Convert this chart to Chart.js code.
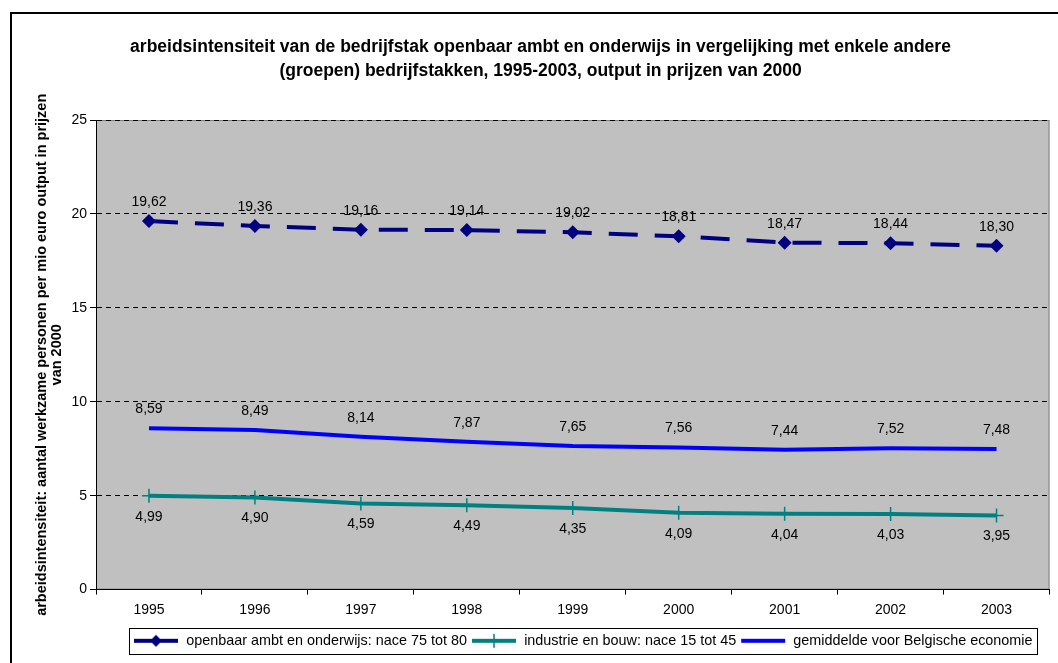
<!DOCTYPE html>
<html>
<head>
<meta charset="utf-8">
<script src="https://cdn.jsdelivr.net/npm/chart.js@4/dist/chart.umd.min.js"></script>
<style>
  html, body { margin: 0; padding: 0; background: #fff; }
  canvas { display: block; }
</style>
</head>
<body>
<canvas id="chart" width="1058" height="663"></canvas>
<script>
'use strict';

// ── Data ──────────────────────────────────────────────────────────────────────

const YEARS = ['1995', '1996', '1997', '1998', '1999', '2000', '2001', '2002', '2003'];
const OPENBAAR = [19.62, 19.36, 19.16, 19.14, 19.02, 18.81, 18.47, 18.44, 18.30];
const INDUSTRIE = [4.99, 4.90, 4.59, 4.49, 4.35, 4.09, 4.04, 4.03, 3.95];
const GEMIDDELDE = [8.59, 8.49, 8.14, 7.87, 7.65, 7.56, 7.44, 7.52, 7.48];
const Y_TICKS = [0, 5, 10, 15, 20, 25];

const TITLE = [
  'arbeidsintensiteit van de bedrijfstak openbaar ambt en onderwijs in vergelijking met enkele andere',
  '(groepen) bedrijfstakken, 1995-2003, output in prijzen van 2000',
];
const Y_TITLE = [
  'arbeidsintensiteit: aantal werkzame personen per mio euro output in prijzen',
  'van 2000',
];

const FONT = 'Arial, "Liberation Sans", sans-serif';
const NAVY = '#000080';
const TEAL = '#008080';
const BLUE = '#0000ff';

// ── Legend samples (line + marker) ────────────────────────────────────────────

function legendSample(color, marker) {
  const c = document.createElement('canvas');
  c.width = 46;
  c.height = 16;
  const ctx = c.getContext('2d');
  ctx.strokeStyle = color;
  ctx.lineWidth = 4;
  ctx.beginPath();
  ctx.moveTo(1, 8);
  ctx.lineTo(45, 8);
  ctx.stroke();
  ctx.fillStyle = color;
  if (marker === 'diamond') {
    ctx.beginPath();
    ctx.moveTo(23, 2); ctx.lineTo(29, 8); ctx.lineTo(23, 14); ctx.lineTo(17, 8);
    ctx.closePath();
    ctx.fill();
  } else if (marker === 'cross') {
    ctx.lineWidth = 1.5;
    ctx.beginPath();
    ctx.moveTo(23, 1); ctx.lineTo(23, 15);
    ctx.stroke();
  }
  return c;
}

const SAMPLES = [
  legendSample(NAVY, 'diamond'),
  legendSample(TEAL, 'cross'),
  legendSample(BLUE, null),
];

// ── Plugins ───────────────────────────────────────────────────────────────────

const frame = {
  id: 'frame',
  afterLayout(chart) {
    // legend box sits a bit right of the plot centre in the original
    chart.legend.left += 10;
    chart.legend.right += 10;
  },
  beforeDraw(chart) {
    const { ctx, chartArea: a } = chart;
    ctx.save();
    ctx.fillStyle = '#fff';
    ctx.fillRect(0, 0, chart.width, chart.height);
    ctx.strokeStyle = '#000';
    ctx.lineWidth = 2;
    ctx.strokeRect(11, 13, chart.width + 20, chart.height + 20);
    ctx.fillStyle = '#c0c0c0';
    ctx.fillRect(a.left, a.top, a.right - a.left, a.bottom - a.top);
    ctx.strokeStyle = '#808080';
    ctx.lineWidth = 1;
    ctx.strokeRect(a.left + 0.5, a.top + 0.5, a.right - a.left - 1, a.bottom - a.top - 1);
    ctx.restore();
  },
  afterDraw(chart) {
    const boxes = chart.legend.legendHitBoxes;
    if (!boxes || !boxes.length) return;
    const left = Math.min(...boxes.map(b => b.left)) - 4;
    const right = Math.max(...boxes.map(b => b.left + b.width)) + 4;
    const top = Math.min(...boxes.map(b => b.top)) - 6;
    const bottom = Math.max(...boxes.map(b => b.top + b.height)) + 6;
    const ctx = chart.ctx;
    ctx.save();
    ctx.strokeStyle = '#000';
    ctx.lineWidth = 1;
    ctx.strokeRect(Math.round(left) + 0.5, Math.round(top) + 0.5,
      Math.round(right - left), Math.round(bottom - top));
    ctx.restore();
  },
};

const valueLabels = {
  id: 'valueLabels',
  afterDatasetsDraw(chart) {
    const ctx = chart.ctx;
    ctx.save();
    ctx.font = '14px ' + FONT;
    ctx.fillStyle = '#000';
    ctx.textAlign = 'center';
    ctx.textBaseline = 'middle';
    chart.data.datasets.forEach((ds, i) => {
      const meta = chart.getDatasetMeta(i);
      meta.data.forEach((pt, j) => {
        const txt = ds.data[j].toFixed(2).replace('.', ',');
        ctx.fillText(txt, pt.x, pt.y + ds.labelOffset);
      });
    });
    ctx.restore();
  },
};

// ── Chart ─────────────────────────────────────────────────────────────────────

new Chart(document.getElementById('chart'), {
  type: 'line',
  data: {
    labels: YEARS,
    datasets: [
      {
        label: 'openbaar ambt en onderwijs: nace 75 tot 80',
        data: OPENBAAR,
        borderColor: NAVY,
        backgroundColor: NAVY,
        borderWidth: 4,
        borderDash: [29, 17],
        pointStyle: 'rectRot',
        pointRadius: 7,
        pointBorderWidth: 0,
        pointBackgroundColor: NAVY,
        labelOffset: -19,
      },
      {
        label: 'industrie en bouw: nace 15 tot 45',
        data: INDUSTRIE,
        borderColor: TEAL,
        backgroundColor: TEAL,
        borderWidth: 4,
        pointStyle: 'cross',
        pointRadius: 7,
        pointBorderWidth: 1.5,
        pointBorderColor: TEAL,
        labelOffset: 21,
      },
      {
        label: 'gemiddelde voor Belgische economie',
        data: GEMIDDELDE,
        borderColor: BLUE,
        backgroundColor: BLUE,
        borderWidth: 4,
        pointRadius: 0,
        labelOffset: -19,
      },
    ],
  },
  options: {
    responsive: false,
    animation: false,
    layout: { padding: { top: 35, left: 28, right: 5, bottom: 5 } },
    plugins: {
      tooltip: { enabled: false },
      title: {
        display: true,
        text: TITLE,
        color: '#000',
        font: { family: FONT, size: 17.5, weight: 'bold', lineHeight: '24px' },
        padding: { top: 0, bottom: 37 },
      },
      legend: {
        position: 'bottom',
        fullSize: false,
        align: 'center',
        labels: {
          color: '#000',
          font: { family: FONT, size: 14.4 },
          usePointStyle: true,
          pointStyleWidth: 46,
          padding: 4,
          generateLabels(chart) {
            return chart.data.datasets.map((ds, i) => ({
              text: ds.label,
              pointStyle: SAMPLES[i],
              fillStyle: ds.borderColor,
              strokeStyle: ds.borderColor,
              lineWidth: 0,
              datasetIndex: i,
              fontColor: '#000',
            }));
          },
        },
      },
    },
    scales: {
      x: {
        offset: true,
        ticks: { color: '#000', font: { family: FONT, size: 14 }, padding: 7 },
        grid: { offset: true, drawOnChartArea: false, tickLength: 5, color: '#000' },
        border: { color: '#000', width: 1 },
        afterFit(scale) { scale.height = 40; },
      },
      y: {
        min: 0,
        max: 25,
        afterBuildTicks(scale) { scale.ticks = Y_TICKS.map(v => ({ value: v })); },
        ticks: { color: '#000', font: { family: FONT, size: 14 }, padding: 3 },
        grid: { color: '#000', tickLength: 6, tickColor: '#000', tickBorderDash: [] },
        border: { color: '#000', width: 1, dash: [5, 4] },
        title: {
          display: true,
          text: Y_TITLE,
          color: '#000',
          font: { family: FONT, size: 14.5, weight: 'bold', lineHeight: '15px' },
          padding: { top: 6, bottom: 0 },
        },
        afterFit(scale) { scale.width = 68; },
      },
    },
  },
  plugins: [frame, valueLabels],
});
</script>
</body>
</html>
